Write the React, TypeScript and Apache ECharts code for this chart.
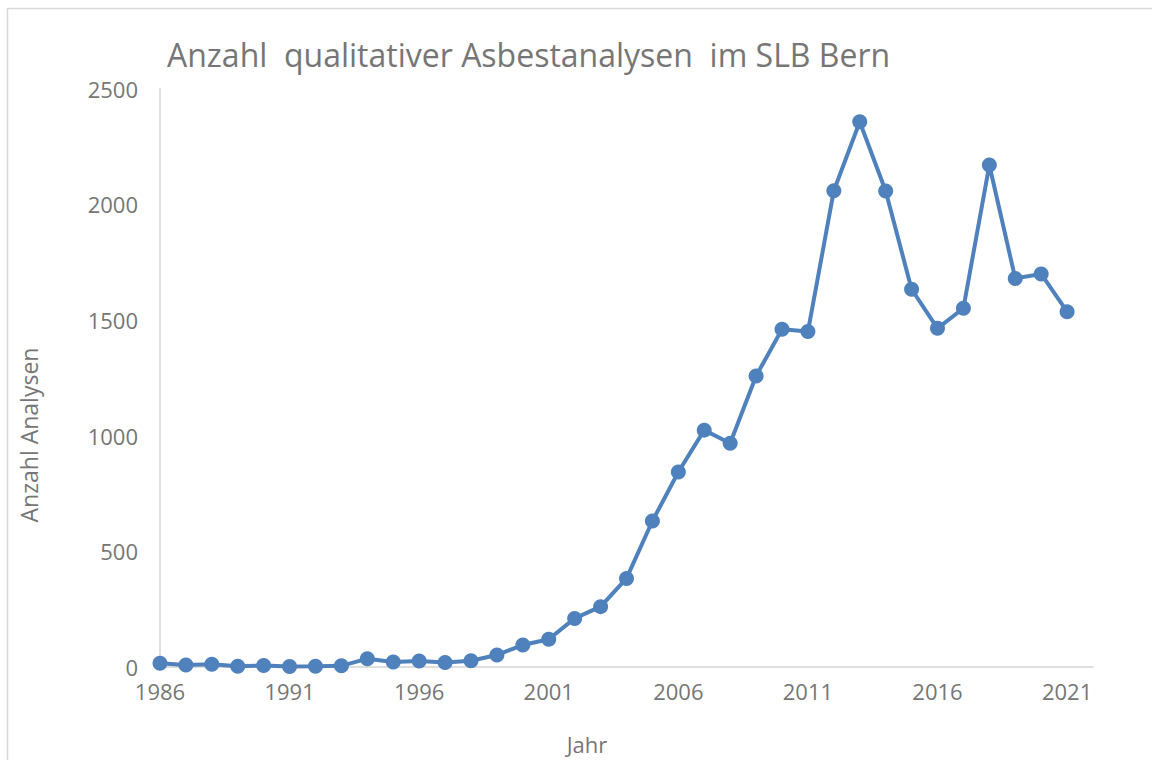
import React, { useEffect, useRef } from "react";
import * as echarts from "echarts";

const years: number[] = [
  1986, 1987, 1988, 1989, 1990, 1991, 1992, 1993, 1994, 1995, 1996, 1997,
  1998, 1999, 2000, 2001, 2002, 2003, 2004, 2005, 2006, 2007, 2008, 2009,
  2010, 2011, 2012, 2013, 2014, 2015, 2016, 2017, 2018, 2019, 2020, 2021,
];
const analysen: number[] = [
  16, 9, 12, 3, 6, 2, 3, 5, 36, 22, 26, 19,
  27, 52, 95, 120, 210, 261, 383, 631, 843, 1024, 967, 1258,
  1460, 1450, 2059, 2357, 2058, 1633, 1464, 1551, 2170, 1680, 1699, 1536,
];
const yTicks: number[] = [0, 500, 1000, 1500, 2000, 2500];
const titleText = "Anzahl  qualitativer Asbestanalysen  im SLB Bern";
const yName = "Anzahl Analysen";
const xName = "Jahr";

const FONT = "'Open Sans', sans-serif";
const TXT = "#767676";

export default function App() {
  const ref = useRef<HTMLDivElement>(null);
  useEffect(() => {
    if (!ref.current) return;
    const chart = echarts.init(ref.current, null, { renderer: "svg" });
    chart.setOption({
      animation: false,
      backgroundColor: "#ffffff",
      grid: { left: 160, right: 59, top: 88.7, bottom: 93, containLabel: false },
      xAxis: {
        type: "value",
        min: 1986,
        max: 2022,
        interval: 5,
        splitLine: { show: false },
        axisTick: { show: false },
        axisLine: { show: true, onZero: false, lineStyle: { color: "#d4d4d4", width: 1.5 } },
        axisLabel: {
          showMaxLabel: false,
          color: TXT,
          fontFamily: FONT,
          fontSize: 22,
          margin: 13,
          formatter: (v: number) => String(v),
        },
      },
      yAxis: {
        type: "value",
        min: yTicks[0],
        max: yTicks[yTicks.length - 1],
        interval: 500,
        splitLine: { show: false },
        axisTick: { show: false },
        axisLine: { show: true, lineStyle: { color: "#d4d4d4", width: 1.5 } },
        axisLabel: {
          color: TXT,
          fontFamily: FONT,
          fontSize: 22,
          margin: 22,
          formatter: (v: number) => String(v),
        },
      },
      graphic: [
        {
          type: "rect",
          shape: { x: 7.5, y: 8.5, width: 1200, height: 800 },
          style: { fill: "none", stroke: "#d9d9d9", lineWidth: 1.5 },
          silent: true,
        },
        {
          type: "text",
          x: 167,
          y: 54,
          style: {
            text: titleText,
            fill: TXT,
            font: `32px ${FONT}`,
            textAlign: "left",
            textVerticalAlign: "middle",
          },
        },
        {
          type: "text",
          x: 29,
          y: 435,
          rotation: Math.PI / 2,
          style: {
            text: yName,
            fill: TXT,
            font: `23px ${FONT}`,
            textAlign: "center",
            textVerticalAlign: "middle",
          },
        },
        {
          type: "text",
          x: 587,
          y: 744,
          style: {
            text: xName,
            fill: TXT,
            font: `22px ${FONT}`,
            textAlign: "center",
            textVerticalAlign: "middle",
          },
        },
      ],
      series: [
        {
          type: "line",
          data: years.map((y, i) => [y, analysen[i]]),
          symbol: "circle",
          symbolSize: 15,
          lineStyle: { color: "#4f81bd", width: 4 },
          itemStyle: { color: "#4f81bd" },
        },
      ],
    });
    return () => chart.dispose();
  }, []);
  return (
    <div
      ref={ref}
      style={{ position: "fixed", left: 0, top: 0, width: 1152, height: 760 }}
    />
  );
}
